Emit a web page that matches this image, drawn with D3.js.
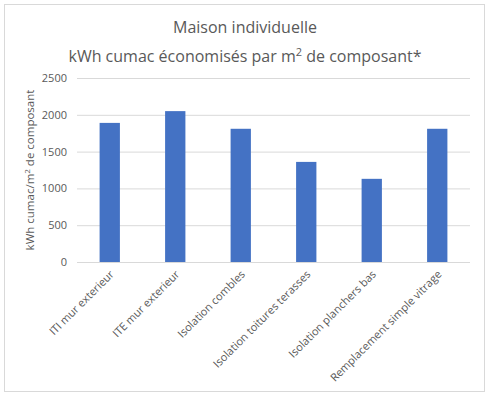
<!DOCTYPE html>
<html><head><meta charset="utf-8">
<script src="https://cdn.jsdelivr.net/npm/d3@7"></script>
<style>body{margin:0;background:#fff;}svg{display:block;font-family:"Open Sans","Segoe UI",sans-serif;}</style>
</head><body><svg id="c" width="491" height="398"></svg>
<script>
const categories = ["ITI mur exterieur","ITE mur exterieur","Isolation combles","Isolation toitures terasses","Isolation planchers bas","Remplacement simple vitrage"];
const values = [1890, 2050, 1810, 1360, 1130, 1810];
const yTicks = [0, 500, 1000, 1500, 2000, 2500];

const svg = d3.select("#c");
svg.append("rect").attr("x",4.5).attr("y",4.5).attr("width",480).attr("height",387)
  .attr("fill","#fff").attr("stroke","#d9d9d9");

const m = {l:77, r:470, t:78, b:262};
const x = d3.scaleBand().domain(categories).range([m.l, m.r]).paddingInner(0.69).paddingOuter(0.345);
const y = d3.scaleLinear().domain([0,2500]).range([m.b, m.t]);

const yAxis = svg.append("g").attr("transform",`translate(${m.l},0)`)
  .call(d3.axisLeft(y).tickValues(yTicks).tickFormat(d3.format("d")).tickSize(-(m.r-m.l)).tickPadding(10));
yAxis.select(".domain").remove();
yAxis.selectAll("line").attr("stroke","#d9d9d9");
yAxis.selectAll("text").attr("fill","#595959").style("font-size","11px").style("font-family","'Open Sans',sans-serif");

svg.append("g").selectAll("rect").data(values).join("rect")
  .attr("x",(d,i)=>x(categories[i])).attr("width",x.bandwidth())
  .attr("y",d=>y(d)).attr("height",d=>y(0)-y(d)).attr("fill","#4472C4");

const xAxis = svg.append("g").attr("transform",`translate(0,${m.b})`)
  .call(d3.axisBottom(x).tickSize(0).tickPadding(0));
xAxis.select(".domain").remove();
xAxis.selectAll("text").attr("fill","#595959").style("font-size","11px").style("font-family","'Open Sans',sans-serif")
  .attr("text-anchor","end").attr("dy",0).attr("y",0)
  .attr("transform","translate(5,13) rotate(-45)");

const t = svg.append("text").attr("x",245).attr("fill","#595959").attr("text-anchor","middle")
  .style("font-size","16px");
t.append("tspan").attr("x",245).attr("y",33).text("Maison individuelle");
const t2 = svg.append("text").attr("x",245).attr("y",62).attr("fill","#595959").attr("text-anchor","middle").style("font-size","16px");
t2.append("tspan").text("kWh cumac économisés par m");
t2.append("tspan").attr("dy",-6).style("font-size","11px").text("2");
t2.append("tspan").attr("dy",6).text(" de composant*");

const yt = svg.append("text").attr("transform",`translate(34,${(m.t+m.b)/2}) rotate(-90)`)
  .attr("text-anchor","middle").attr("fill","#595959").style("font-size","11.5px");
yt.append("tspan").text("kWh cumac/m");
yt.append("tspan").attr("dy",-4).style("font-size","8px").text("2");
yt.append("tspan").attr("dy",4).text(" de composant");
</script></body></html>
